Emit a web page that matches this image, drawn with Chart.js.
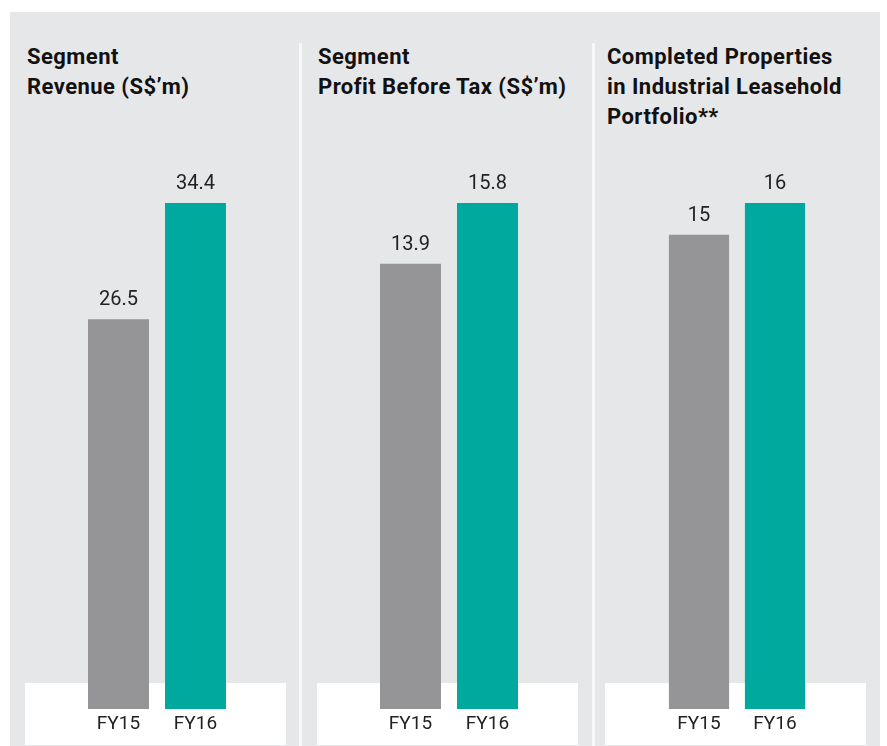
<!DOCTYPE html>
<html>
<head>
<meta charset="utf-8">
<script src="https://cdn.jsdelivr.net/npm/chart.js@4.4.0/dist/chart.umd.min.js"></script>
<style>
  body { margin: 0; background: #ffffff; width: 887px; height: 746px; position: relative; overflow: hidden; font-family: Roboto, sans-serif; }
  .bg { position: absolute; left: 10px; top: 12px; width: 870px; height: 734px; background: #e6e7e9; }
  .strip { position: absolute; top: 683px; height: 62px; background: #ffffff; }
  .divider { position: absolute; top: 43px; width: 3px; height: 703px; background: #f7f8f9; }
  .title { position: absolute; top: 42px; font-weight: bold; font-size: 22px; letter-spacing: 0.45px; line-height: 30px; color: #111; white-space: nowrap; }
  canvas { position: absolute; }
</style>
</head>
<body>
<div class="bg"></div>
<div class="strip" style="left:25px;width:261px"></div>
<div class="strip" style="left:317px;width:261px"></div>
<div class="strip" style="left:605px;width:261px"></div>
<div class="divider" style="left:299px"></div>
<div class="divider" style="left:592px"></div>
<div class="title" style="left:27px">Segment<br>Revenue (S$’m)</div>
<div class="title" style="left:318px">Segment<br>Profit Before Tax (S$’m)</div>
<div class="title" style="left:607px">Completed Properties<br>in Industrial Leasehold<br>Portfolio**</div>

<div style="position:absolute;left:80px;top:12px;width:154px;height:734px"><canvas id="c1"></canvas></div>
<div style="position:absolute;left:372px;top:12px;width:154px;height:734px"><canvas id="c2"></canvas></div>
<div style="position:absolute;left:661px;top:12px;width:152px;height:734px"><canvas id="c3"></canvas></div>

<script>
const years = ['FY15', 'FY16'];
const revenue = [26.5, 34.4];
const profitBeforeTax = [13.9, 15.8];
const completedProperties = [15, 16];
const revenueLabels = ['26.5', '34.4'];
const profitLabels = ['13.9', '15.8'];
const propertyLabels = ['15', '16'];

const barColors = ['#959598', '#00a99d'];

// draws the value above each bar
const valueLabels = {
    id: 'valueLabels',
    afterDatasetsDraw(chart, args, opts) {
        const ctx = chart.ctx;
        const meta = chart.getDatasetMeta(0);
        ctx.save();
        ctx.font = '20px Roboto, sans-serif';
        ctx.fillStyle = '#222222';
        ctx.textAlign = 'center';
        ctx.textBaseline = 'alphabetic';
        meta.data.forEach((bar, i) => {
            ctx.fillText(opts.labels[i], bar.x, bar.y - 14);
        });
        ctx.restore();
    }
};

function makeChart(id, values, labels) {
    const ctx = document.getElementById(id).getContext('2d');
    return new Chart(ctx, {
        type: 'bar',
        data: {
            labels: years,
            datasets: [{
                data: values,
                backgroundColor: barColors,
                borderWidth: 0,
                barPercentage: 0.792,
                categoryPercentage: 1
            }]
        },
        options: {
            responsive: true,
            maintainAspectRatio: false,
            animation: false,
            layout: { padding: { top: 191, left: 0, right: 0, bottom: 0 } },
            plugins: {
                legend: { display: false },
                tooltip: { enabled: false },
                valueLabels: { labels: labels }
            },
            scales: {
                x: {
                    grid: { display: false, drawTicks: false },
                    border: { display: false },
                    ticks: { color: '#222222', font: { family: 'Roboto', size: 19 }, padding: 4 },
                    afterFit(scale) { scale.height = 37; }
                },
                y: {
                    display: false,
                    beginAtZero: true,
                    min: 0,
                    max: Math.max(...values)
                }
            }
        },
        plugins: [valueLabels]
    });
}

makeChart('c1', revenue, revenueLabels);
makeChart('c2', profitBeforeTax, profitLabels);
makeChart('c3', completedProperties, propertyLabels);
</script>
</body>
</html>
